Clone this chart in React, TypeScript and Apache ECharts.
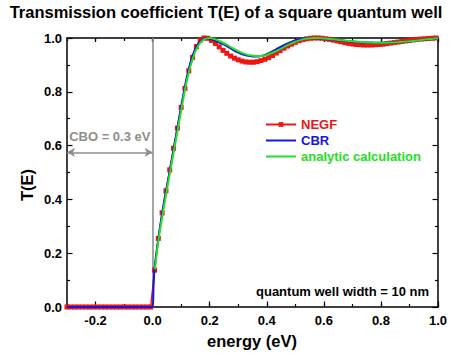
import React, { useEffect, useRef } from "react";
import * as echarts from "echarts";

const titleText = "Transmission coefficient T(E) of a square quantum well";
const seriesNames = ["NEGF", "CBR", "analytic calculation"];
const seriesColors = ["#f01414", "#1414e6", "#22e022"];

// NEGF (markers)
const negfE = [
  -0.3, -0.2867, -0.2733, -0.26, -0.2467, -0.2333, -0.22, -0.2067, -0.1933, -0.18, -0.1667, -0.1533,
  -0.14, -0.1267, -0.1133, -0.1, -0.0867, -0.0733, -0.06, -0.0467, -0.0333, -0.02, -0.0067,
  0.0067, 0.02, 0.0333, 0.0467, 0.06, 0.0733, 0.0867, 0.1, 0.1133, 0.1267, 0.14, 0.1533, 0.1667, 0.18,
  0.1933, 0.2067, 0.22, 0.2333, 0.2467, 0.26, 0.2733, 0.2867, 0.3, 0.3133, 0.3267, 0.34, 0.3533, 0.3667,
  0.38, 0.3933, 0.4067, 0.42, 0.4333, 0.4467, 0.46, 0.4733, 0.4867, 0.5, 0.5133, 0.5267, 0.54, 0.5533,
  0.5667, 0.58, 0.5933, 0.6067, 0.62, 0.6333, 0.6467, 0.66, 0.6733, 0.6867, 0.7, 0.7133, 0.7267, 0.74,
  0.7533, 0.7667, 0.78, 0.7933, 0.8067, 0.82, 0.8333, 0.8467, 0.86, 0.8733, 0.8867, 0.9, 0.9133, 0.9267,
  0.94, 0.9533, 0.9667, 0.98, 0.9933,
];
const negfT = [
  0, 0, 0, 0, 0, 0, 0, 0, 0, 0, 0, 0,
  0, 0, 0, 0, 0, 0, 0, 0, 0, 0, 0,
  0.137, 0.255, 0.35, 0.432, 0.51, 0.59, 0.665, 0.742, 0.813, 0.878, 0.928, 0.968, 0.992, 1.0,
  0.999, 0.991, 0.98, 0.967, 0.954, 0.943, 0.933, 0.925, 0.919, 0.914, 0.911, 0.91, 0.91, 0.912,
  0.916, 0.921, 0.927, 0.935, 0.944, 0.953, 0.962, 0.97, 0.977, 0.984, 0.99, 0.994, 0.997, 0.999,
  1.0, 1.0, 0.999, 0.997, 0.995, 0.992, 0.989, 0.986, 0.983, 0.98, 0.978, 0.976, 0.975, 0.974,
  0.974, 0.974, 0.975, 0.976, 0.977, 0.979, 0.981, 0.983, 0.985, 0.987, 0.989, 0.991, 0.993, 0.995,
  0.996, 0.997, 0.998, 0.999, 1.0,
];

// CBR (blue line)
const cbrE = [
  -0.3, 0, 0.003, 0.0067, 0.02, 0.04, 0.06, 0.08, 0.1, 0.12, 0.14, 0.16, 0.18, 0.19, 0.2, 0.22, 0.24,
  0.26, 0.28, 0.3, 0.32, 0.34, 0.36, 0.38, 0.4, 0.42, 0.44, 0.46, 0.48, 0.5, 0.52, 0.54, 0.56, 0.58,
  0.6, 0.64, 0.68, 0.72, 0.76, 0.8, 0.84, 0.88, 0.92, 0.96, 1.0,
];
const cbrT = [
  0, 0, 0.07, 0.14, 0.255, 0.39, 0.505, 0.625, 0.745, 0.855, 0.935, 0.98, 0.998, 1.0, 0.998, 0.99, 0.98,
  0.97, 0.957, 0.946, 0.938, 0.933, 0.931, 0.933, 0.94, 0.95, 0.962, 0.973, 0.983, 0.991, 0.997, 1.0, 1.0, 0.999,
  0.997, 0.993, 0.989, 0.985, 0.983, 0.982, 0.983, 0.986, 0.99, 0.995, 0.999,
];

// analytic calculation (green line)
const anaE = [
  0.008, 0.02, 0.04, 0.06, 0.08, 0.1, 0.12, 0.14, 0.16, 0.18, 0.2, 0.22, 0.24, 0.26, 0.28, 0.3, 0.32,
  0.34, 0.36, 0.38, 0.4, 0.42, 0.44, 0.46, 0.48, 0.5, 0.52, 0.54, 0.56, 0.58, 0.6, 0.64, 0.68, 0.72,
  0.76, 0.8, 0.84, 0.88, 0.92, 0.96, 1.0,
];
const anaT = [
  0.14, 0.245, 0.375, 0.495, 0.612, 0.73, 0.842, 0.922, 0.972, 0.995, 1.0, 0.995, 0.986, 0.975, 0.962, 0.951, 0.942,
  0.936, 0.933, 0.933, 0.937, 0.945, 0.955, 0.966, 0.977, 0.986, 0.993, 0.998, 1.0, 1.0, 0.998, 0.994, 0.99, 0.986,
  0.983, 0.982, 0.983, 0.986, 0.99, 0.995, 0.999,
];

const cboLevel = 0.575;
const cboRange = [-0.3, 0];
const cboLabel = "CBO = 0.3 eV";
const wellLabel = "quantum well width = 10 nm";
const xName = "energy (eV)";
const yName = "T(E)";

const FONT = '"Liberation Sans", Arial, sans-serif';
const GRAY = "#8e8e8e";

export default function App() {
  const ref = useRef<HTMLDivElement>(null);
  useEffect(() => {
    document.body.style.margin = "0";
    if (!ref.current) return;
    const chart = echarts.init(ref.current, null, { renderer: "svg" });
    const L = 67, R = 14, T = 38, B = 51;
    const plotW = 452 - L - R;
    const unit = plotW / 1.3;
    const fmt = (v: number) => v.toFixed(1);
    const lineAxis = {
      show: true,
      onZero: false,
      lineStyle: { color: "#000", width: 1.5 },
    };
    const tickStyle = { color: "#000", width: 1.2 };
    const option: any = {
      animation: false,
      textStyle: { fontFamily: FONT },
      title: {
        text: titleText,
        left: "center",
        top: 3,
        padding: 0,
        textStyle: { fontSize: 16.5, fontWeight: "bold", color: "#000", fontFamily: FONT },
      },
      legend: {
        orient: "vertical",
        left: 260,
        top: 113,
        itemWidth: 30,
        itemHeight: 6,
        itemGap: 3,
        selectedMode: false,
        textStyle: { fontSize: 13, fontWeight: "bold", fontFamily: FONT },
        data: seriesNames.map((n, i) =>
          i === 0
            ? { name: n, textStyle: { color: seriesColors[i] } }
            : { name: n, textStyle: { color: seriesColors[i] }, itemStyle: { color: "rgba(0,0,0,0)", borderWidth: 0 } }
        ),
      },
      grid: [
        { left: L, right: R, top: T, bottom: B },
        { left: L + unit * 0.1, right: R, top: T, bottom: B },
      ],
      xAxis: [
        {
          gridIndex: 0, type: "value", min: -0.3, max: 1.0, interval: 0.1, position: "bottom",
          axisLine: lineAxis,
          axisTick: { show: true, inside: true, length: 3, lineStyle: tickStyle },
          axisLabel: { show: false }, splitLine: { show: false },
        },
        {
          gridIndex: 0, type: "value", min: -0.3, max: 1.0, interval: 0.1, position: "top",
          axisLine: lineAxis,
          axisTick: { show: true, inside: true, length: 3, lineStyle: tickStyle },
          axisLabel: { show: false }, splitLine: { show: false },
        },
        {
          gridIndex: 1, type: "value", min: -0.2, max: 1.0, interval: 0.2, position: "bottom",
          axisLine: { show: false, onZero: false },
          axisTick: { show: true, inside: true, length: 5.5, lineStyle: tickStyle },
          axisLabel: { show: true, formatter: fmt, fontSize: 13, fontWeight: "bold", color: "#000", margin: 7, fontFamily: FONT },
          splitLine: { show: false },
        },
        {
          gridIndex: 1, type: "value", min: -0.2, max: 1.0, interval: 0.2, position: "top",
          axisLine: { show: false, onZero: false },
          axisTick: { show: true, inside: true, length: 4, lineStyle: tickStyle },
          axisLabel: { show: false }, splitLine: { show: false },
        },
      ],
      yAxis: [
        {
          gridIndex: 0, type: "value", min: 0, max: 1, interval: 0.2, position: "left",
          axisLine: lineAxis,
          axisTick: { show: true, inside: true, length: 5.5, lineStyle: tickStyle },
          minorTick: { show: true, splitNumber: 2, length: 3, lineStyle: tickStyle },
          axisLabel: { show: true, formatter: fmt, fontSize: 13, fontWeight: "bold", color: "#000", margin: 5, fontFamily: FONT },
          splitLine: { show: false }, minorSplitLine: { show: false },
        },
        {
          gridIndex: 0, type: "value", min: 0, max: 1, interval: 0.2, position: "right",
          axisLine: lineAxis,
          axisTick: { show: true, inside: true, length: 5.5, lineStyle: tickStyle },
          minorTick: { show: true, splitNumber: 2, length: 3, lineStyle: tickStyle },
          axisLabel: { show: false },
          splitLine: { show: false }, minorSplitLine: { show: false },
        },
        { gridIndex: 1, type: "value", min: 0, max: 1, show: false },
      ],
      series: [
        {
          name: "guides",
          type: "line",
          xAxisIndex: 0,
          yAxisIndex: 0,
          data: [],
          z: 1,
          markLine: {
            silent: true,
            z: 1,
            animation: false,
            data: [
              [
                { coord: [0, 0], symbol: "none" },
                { coord: [0, 1], symbol: "none" },
              ],
              [
                { coord: [cboRange[0], cboLevel], symbol: "arrow" },
                { coord: [cboRange[1], cboLevel], symbol: "arrow" },
              ],
            ],
            symbolSize: [7, 8],
            lineStyle: { color: GRAY, width: 1.6, type: "solid" },
            label: {
              show: true,
              formatter: (p: any) => (p.dataIndex === 1 ? cboLabel : ""),
              position: "insideMiddleTop",
              distance: 9,
              color: GRAY,
              fontSize: 13,
              fontWeight: "bold",
              fontFamily: FONT,
            },
          },
        },
        {
          name: seriesNames[0],
          type: "line",
          xAxisIndex: 0,
          yAxisIndex: 0,
          data: negfE.map((e, i) => [e, negfT[i]]),
          symbol: "rect",
          symbolSize: 5,
          showAllSymbol: true,
          lineStyle: { color: seriesColors[0], width: 1.5 },
          itemStyle: { color: seriesColors[0] },
          z: 2,
        },
        {
          name: seriesNames[1],
          type: "line",
          xAxisIndex: 0,
          yAxisIndex: 0,
          data: cbrE.map((e, i) => [e, cbrT[i]]),
          symbol: "none",
          smooth: 0.3,
          lineStyle: { color: seriesColors[1], width: 2 },
          itemStyle: { color: seriesColors[1] },
          z: 3,
        },
        {
          name: seriesNames[2],
          type: "line",
          xAxisIndex: 0,
          yAxisIndex: 0,
          data: anaE.map((e, i) => [e, anaT[i]]),
          symbol: "none",
          smooth: 0.3,
          lineStyle: { color: seriesColors[2], width: 2 },
          itemStyle: { color: seriesColors[2] },
          z: 4,
        },
      ],
      graphic: [
        {
          type: "text",
          right: 23,
          top: 285,
          style: { text: wellLabel, fill: "#000", font: `bold 13px ${FONT}` },
        },
        {
          type: "text",
          x: 252,
          y: 341,
          style: { text: xName, fill: "#000", font: `bold 16.5px ${FONT}`, textAlign: "center", textVerticalAlign: "middle" },
        },
        {
          type: "text",
          x: 27,
          y: 185,
          rotation: Math.PI / 2,
          style: { text: yName, fill: "#000", font: `bold 16.5px ${FONT}`, textAlign: "center", textVerticalAlign: "middle" },
        },
      ],
    };
    chart.setOption(option);
    return () => chart.dispose();
  }, []);
  return <div ref={ref} style={{ width: 452, height: 358 }} />;
}
